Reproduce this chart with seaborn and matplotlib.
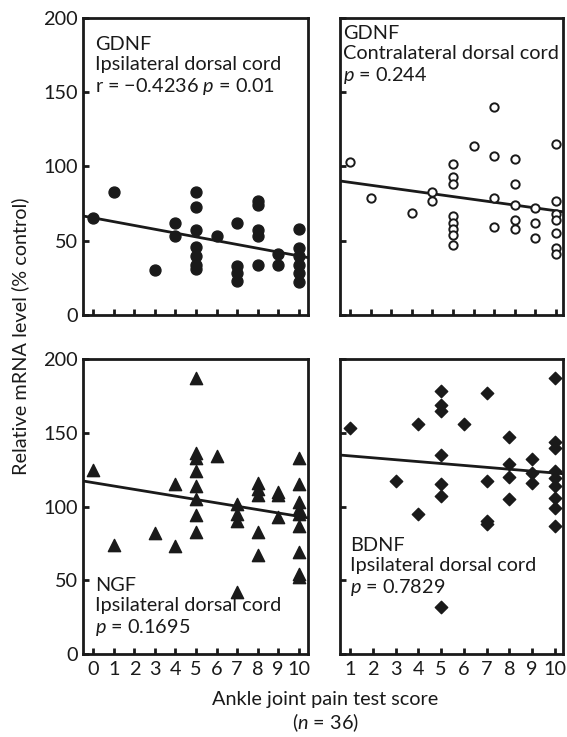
import matplotlib
matplotlib.use("Agg")
import matplotlib.pyplot as plt
import seaborn as sns
import numpy as np
import pandas as pd

# ---- data ----
gdnf_ipsi_score = [0, 1, 3, 4, 4, 5, 5, 5, 5, 5, 5, 5, 6, 7, 7, 7, 7, 8, 8, 8, 8, 8, 9, 9,
                   10, 10, 10, 10, 10, 10]
gdnf_ipsi_level = [65, 83, 30, 62, 53, 83, 73, 57, 46, 40, 34, 31, 53, 62, 33, 28, 23, 77, 74, 57, 53, 34, 41, 34,
                   58, 45, 40, 34, 28, 22]

gdnf_contra_score = [0, 1, 3, 4, 4, 5, 5, 5, 5, 5, 5, 5, 5, 6, 7, 7, 7, 7, 8, 8, 8, 8, 8, 9, 9, 9,
                     10, 10, 10, 10, 10, 10, 10]
gdnf_contra_level = [103, 79, 69, 83, 77, 102, 93, 88, 67, 62, 58, 54, 47, 114, 140, 107, 79, 59, 105, 88, 74, 64, 58,
                     72, 62, 52, 115, 77, 68, 64, 55, 45, 41]

ngf_score = [0, 1, 3, 4, 4, 5, 5, 5, 5, 5, 5, 5, 5, 6, 7, 7, 7, 7, 8, 8, 8, 8, 8, 9, 9, 9,
             10, 10, 10, 10, 10, 10, 10, 10, 10]
ngf_level = [125, 74, 82, 115, 73, 187, 136, 133, 124, 114, 105, 94, 83, 134, 102, 95, 90, 42, 116, 112, 108, 83, 67,
             110, 108, 93, 133, 115, 103, 98, 95, 87, 69, 54, 52]

bdnf_score = [1, 3, 4, 4, 5, 5, 5, 5, 5, 5, 5, 6, 7, 7, 7, 7, 8, 8, 8, 8, 9, 9, 9,
              10, 10, 10, 10, 10, 10, 10, 10, 10]
bdnf_level = [153, 117, 156, 95, 178, 169, 165, 135, 115, 107, 32, 156, 177, 117, 90, 88, 147, 129, 120, 105,
              132, 123, 116, 187, 144, 140, 124, 119, 114, 106, 99, 87]

y_ticks = [0, 50, 100, 150, 200]
x_ticks_left = list(range(0, 11))
x_ticks_right = list(range(1, 11))

# ---- style ----
sns.set_theme(style="ticks")
plt.rcParams["font.family"] = ["Lato", "DejaVu Sans"]
plt.rcParams["mathtext.fontset"] = "custom"
plt.rcParams["mathtext.rm"] = "Lato"
plt.rcParams["mathtext.it"] = "Lato:italic"
FS = 14.3
INK = "#1a1a1a"

W, H = 567, 737
fig = plt.figure(figsize=(W / 100, H / 100), dpi=100)


def box(x0, y0, x1, y1):
    return [x0 / W, 1 - y1 / H, (x1 - x0) / W, (y1 - y0) / H]


ax_tl = fig.add_axes(box(83, 18, 308, 315))
ax_tr = fig.add_axes(box(340, 18, 563, 315))
ax_bl = fig.add_axes(box(83, 359, 308, 654))
ax_br = fig.add_axes(box(340, 359, 563, 654))

panels = [
    (ax_tl, gdnf_ipsi_score, gdnf_ipsi_level, "o", INK, 62, 1.0, (-0.5, 10.45)),
    (ax_tr, gdnf_contra_score, gdnf_contra_level, "o", "white", 36, 1.4, (-0.49, 10.35)),
    (ax_bl, ngf_score, ngf_level, "^", INK, 78, 1.0, (-0.5, 10.45)),
    (ax_br, bdnf_score, bdnf_level, "D", INK, 40, 1.0, (0.56, 10.35)),
]

for ax, xs, ys, mk, fc, s, lw, xlim in panels:
    df = pd.DataFrame({"score": xs, "level": ys})
    ax.set_xlim(*xlim)
    ax.set_ylim(0, 200)
    sns.regplot(data=df, x="score", y="level", ax=ax, scatter=False, ci=None,
                truncate=False, color=INK, line_kws={"linewidth": 2.0})
    sns.scatterplot(data=df, x="score", y="level", ax=ax, marker=mk, s=s,
                    facecolor=fc, edgecolor=INK, linewidth=lw, zorder=3)
    ax.set_xlim(*xlim)
    ax.set_ylim(0, 200)
    ax.set_xlabel("")
    ax.set_ylabel("")
    for sp in ax.spines.values():
        sp.set_visible(True)
        sp.set_linewidth(2.0)
        sp.set_color(INK)
    ax.tick_params(direction="in", length=4, width=2.0, color=INK,
                   labelsize=FS, labelcolor=INK, pad=4)
    ax.set_yticks(y_ticks)

# x ticks
for ax in (ax_tl, ax_tr, ax_bl):
    ax.set_xticks(x_ticks_left)
ax_br.set_xticks(x_ticks_right)
ax_tl.tick_params(labelbottom=False)
ax_tr.tick_params(labelbottom=False, labelleft=False)
ax_br.tick_params(labelleft=False)
ax_bl.set_xticklabels([str(v) for v in x_ticks_left])
ax_br.set_xticklabels([str(v) for v in x_ticks_right])
ax_bl.tick_params(axis="x", pad=5)
ax_br.tick_params(axis="x", pad=5)

# annotations
ax_tl.text(0.053, 0.94, "GDNF\nIpsilateral dorsal cord\nr = \u22120.4236 $p$ = 0.01",
           transform=ax_tl.transAxes, ha="left", va="top", fontsize=FS,
           color=INK, linespacing=1.2)
ax_tr.text(0.015, 0.975, "GDNF\nContralateral dorsal cord\n$p$ = 0.244",
           transform=ax_tr.transAxes, ha="left", va="top", fontsize=FS,
           color=INK, linespacing=1.2)
ax_bl.text(0.053, 0.262, "NGF\nIpsilateral dorsal cord\n$p$ = 0.1695",
           transform=ax_bl.transAxes, ha="left", va="top", fontsize=FS,
           color=INK, linespacing=1.2)
ax_br.text(0.045, 0.395, "BDNF\nIpsilateral dorsal cord\n$p$ = 0.7829",
           transform=ax_br.transAxes, ha="left", va="top", fontsize=FS,
           color=INK, linespacing=1.2)

# shared labels
fig.text(20 / W, 1 - 336 / H, "Relative mRNA level (% control)", rotation=90,
         ha="center", va="center", fontsize=FS, color=INK)
fig.text(325 / W, 1 - 700 / H, "Ankle joint pain test score", ha="center",
         va="center", fontsize=FS, color=INK)
fig.text(325 / W, 1 - 723 / H, "($n$ = 36)", ha="center", va="center",
         fontsize=FS, color=INK)

fig.savefig("out.png", dpi=100)
